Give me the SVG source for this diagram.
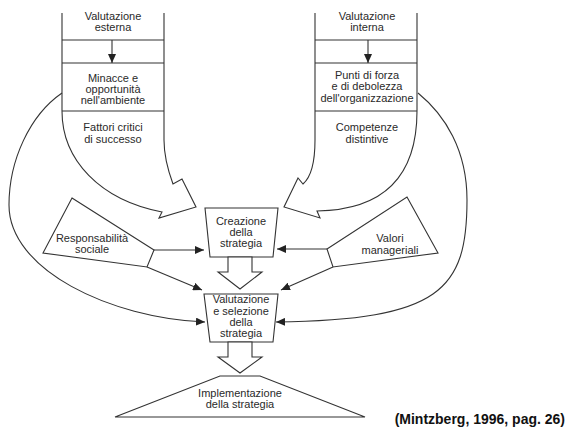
<svg xmlns="http://www.w3.org/2000/svg" width="568" height="428" viewBox="0 0 568 428">
<style>
.s{fill:none;stroke:#333;stroke-width:1.1}
.w{fill:#fff;stroke:#333;stroke-width:1.1}
.t{font-family:"Liberation Sans",Arial,sans-serif;font-size:11px;fill:#2a2a2a;text-anchor:middle}
.c{font-family:"Liberation Sans",Arial,sans-serif;font-size:14px;font-weight:bold;fill:#111;text-anchor:end}
</style>
<defs>
<marker id="ah" markerUnits="userSpaceOnUse" markerWidth="10" markerHeight="8" refX="9" refY="4" orient="auto">
<path d="M0,0 L9,4 L0,8 Z" fill="#222"/>
</marker>
</defs>
<rect width="568" height="428" fill="#fff"/>

<g id="external">
<path class="s" d="M62,13 L62,111 C62,160 100,200 162,212 L159,218 L196,207 L182,179 L173,184 C166,165 164,150 164,140 L164,13"/>
<line class="s" x1="62" y1="40" x2="164" y2="40"/>
<line class="s" x1="62" y1="63" x2="164" y2="63"/>
<line class="s" x1="62" y1="111" x2="164" y2="111"/>
<text class="t" x="113" y="20">Valutazione</text>
<text class="t" x="113" y="31">esterna</text>
<text class="t" x="113" y="82">Minacce e</text>
<text class="t" x="113" y="93">opportunità</text>
<text class="t" x="113" y="104">nell'ambiente</text>
<text class="t" x="113" y="131">Fattori critici</text>
<text class="t" x="113" y="143">di successo</text>
</g>

<g id="internal">
<path class="s" d="M315,13 L315,140 C315,165 310,178 303,184 L298,178 L284,207 L320,218 L317,211 C375,210 417,185 417,111 L417,13"/>
<line class="s" x1="315" y1="40" x2="417" y2="40"/>
<line class="s" x1="315" y1="63" x2="417" y2="63"/>
<line class="s" x1="315" y1="111" x2="417" y2="111"/>
<text class="t" x="367" y="20">Valutazione</text>
<text class="t" x="367" y="31">interna</text>
<text class="t" x="367" y="79">Punti di forza</text>
<text class="t" x="367" y="90">e di debolezza</text>
<text class="t" x="367" y="101.5">dell'organizzazione</text>
<text class="t" x="367" y="131">Competenze</text>
<text class="t" x="367" y="143">distintive</text>
</g>

<g id="responsabilita">
<polygon class="w" points="72,198 154,250 147,267 43,253"/>
<text class="t" x="92" y="242">Responsabilità</text>
<text class="t" x="92" y="253">sociale</text>
</g>

<g id="valori">
<polygon class="w" points="407,197 438,253 333,267 327,249"/>
<text class="t" x="390" y="242">Valori</text>
<text class="t" x="390" y="253.5">manageriali</text>
</g>

<g id="creazione">
<polygon class="w" points="205,208 278,208 273,257 210,257"/>
<text class="t" x="241" y="225">Creazione</text>
<text class="t" x="241" y="236">della</text>
<text class="t" x="241" y="247">strategia</text>
</g>

<g id="valutazione">
<polygon class="w" points="204,294 278,294 273,342 210,342"/>
<text class="t" x="241" y="303">Valutazione</text>
<text class="t" x="241" y="314.5">e selezione</text>
<text class="t" x="241" y="325.5">della</text>
<text class="t" x="241" y="336.5">strategia</text>
</g>

<g id="implementazione">
<polygon class="w" points="220,376 260,376 365,417 115,417"/>
<text class="t" x="240" y="397">Implementazione</text>
<text class="t" x="240" y="408">della strategia</text>
</g>

<g id="connectors">
<line class="s" x1="112" y1="40" x2="112" y2="63" marker-end="url(#ah)"/>
<line class="s" x1="368" y1="40" x2="368" y2="63" marker-end="url(#ah)"/>
<path class="s" d="M62,93 C30,115 9,160 9,205 C9,270 110,318 205,322" marker-end="url(#ah)"/>
<path class="s" d="M418,93 C445,115 467,150 467,200 C467,290 440,320 276,322" marker-end="url(#ah)"/>
<line class="s" x1="154" y1="250" x2="204" y2="250" marker-end="url(#ah)"/>
<line class="s" x1="147" y1="267" x2="202" y2="290" marker-end="url(#ah)"/>
<line class="s" x1="327" y1="249" x2="277" y2="249" marker-end="url(#ah)"/>
<line class="s" x1="333" y1="267" x2="281" y2="290" marker-end="url(#ah)"/>
<polygon class="w" points="228,257 228,272 218,272 240,289 262,272 252,272 252,257"/>
<polygon class="w" points="228,342 228,357 218,357 240,373 262,357 252,357 252,342"/>
</g>

<text class="c" x="565" y="424">(Mintzberg, 1996, pag. 26)</text>
</svg>
